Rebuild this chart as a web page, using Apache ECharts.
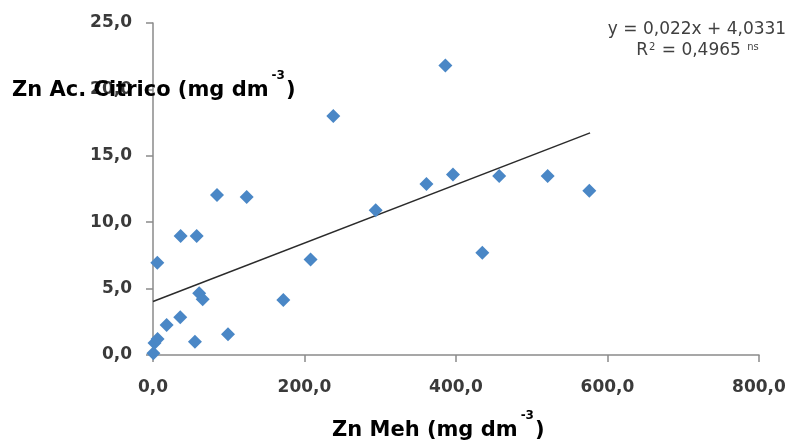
<!DOCTYPE html>
<html>
<head>
<meta charset="utf-8">
<script src="https://cdn.jsdelivr.net/npm/echarts@6/dist/echarts.min.js"></script>
<style>
html,body{margin:0;padding:0;background:#fff;}
#main{width:789px;height:441px;}
</style>
</head>
<body>
<div id="main"></div>
<script>
// Zn Meh (x) vs Zn Ac. Citrico (y)
var znMeh = [0.5, 2, 6, 18, 36, 5.7, 36.5, 57.7, 61, 65.6, 55.4, 99, 172, 208, 84.5, 123.7, 238, 294, 361, 396, 386, 457, 521, 576, 434.7];
var znCitrico = [0.13, 0.9, 1.2, 2.26, 2.84, 6.95, 8.96, 8.96, 4.65, 4.2, 1.0, 1.56, 4.14, 7.2, 12.05, 11.9, 18.0, 10.9, 12.88, 13.6, 21.8, 13.48, 13.48, 12.37, 7.7];
// trend line end points
var trendX = [0, 577];
var trendY = [4.03, 16.73];
var xTicks = [0, 200, 400, 600, 800];
var yTicks = [0, 5, 10, 15, 20, 25];
var equationLine1 = 'y = 0,022x + 4,0331';
var equationR2 = '0,4965';
var yTitleMain = 'Zn Ac. Citrico (mg dm';
var xTitleMain = 'Zn Meh (mg dm';
var titleSup = '-3';

var pts = znMeh.map(function (x, i) { return [x, znCitrico[i]]; });
var trend = trendX.map(function (x, i) { return [x, trendY[i]]; });
function fmt(v) { if (Math.abs(v) < 1e-9) v = 0; return Math.abs(v).toFixed(1).replace('.', ','); }

var TITLE_FONT = 'bold 21px "DejaVu Sans"';
var SUP_FONT = 'bold 12px "DejaVu Sans"';
var ctx = document.createElement('canvas').getContext('2d');
function textW(t, f) { ctx.font = f; return ctx.measureText(t).width; }

function titleParts(x0, yc, main) {
  var w = textW(main, TITLE_FONT);
  var sw = textW(titleSup, SUP_FONT);
  var base = {fill: '#000', fontFamily: 'DejaVu Sans', fontWeight: 'bold'};
  return [
    {type: 'text', z: 100, style: Object.assign({x: x0, y: yc, text: main, verticalAlign: 'middle', fontSize: 21}, base)},
    {type: 'text', z: 100, style: Object.assign({x: x0 + w + 3, y: yc - 15, text: titleSup, verticalAlign: 'middle', fontSize: 12}, base)},
    {type: 'text', z: 100, style: Object.assign({x: x0 + w + 3 + sw + 1, y: yc, text: ')', verticalAlign: 'middle', fontSize: 21}, base)}
  ];
}

var graphics = []
  .concat(titleParts(12, 91, yTitleMain))
  .concat(titleParts(332, 431, xTitleMain))
  .concat([
    {
      type: 'text', z: 100,
      style: {
        x: 697, y: 30,
        text: equationLine1,
        align: 'center', verticalAlign: 'middle',
        fill: '#404040', fontFamily: 'DejaVu Sans', fontSize: 17
      }
    },
    {
      type: 'text', z: 100,
      style: {
        x: 698, y: 51,
        text: 'R{sup|2} = ' + equationR2 + ' {sup|ns}',
        align: 'center', verticalAlign: 'middle',
        fill: '#404040', fontFamily: 'DejaVu Sans', fontSize: 17,
        rich: {sup: {fontSize: 10, fontFamily: 'DejaVu Sans', fill: '#404040', verticalAlign: 'top', padding: [0, 1, 8, 1]}}
      }
    }
  ]);

var chart = echarts.init(document.getElementById('main'), null, {renderer: 'canvas'});
chart.setOption({
  animation: false,
  backgroundColor: '#ffffff',
  grid: {left: 153, right: 30, top: 23, bottom: 86},
  xAxis: {
    type: 'value',
    min: xTicks[0], max: xTicks[xTicks.length - 1], interval: 200,
    splitLine: {show: false},
    axisLine: {show: true, onZero: false, lineStyle: {color: '#8a8a8a', width: 1.5}},
    axisTick: {show: true, length: 7, lineStyle: {color: '#8a8a8a', width: 1.5}},
    axisLabel: {margin: 24, formatter: fmt, color: '#3a3a3a', fontFamily: 'DejaVu Sans', fontWeight: 'bold', fontSize: 17}
  },
  yAxis: {
    type: 'value',
    min: yTicks[0], max: yTicks[yTicks.length - 1], interval: 5,
    splitLine: {show: false},
    axisLine: {show: true, onZero: false, lineStyle: {color: '#8a8a8a', width: 1.5}},
    axisTick: {show: true, length: 7, lineStyle: {color: '#8a8a8a', width: 1.5}},
    axisLabel: {margin: 21, formatter: fmt, color: '#3a3a3a', fontFamily: 'DejaVu Sans', fontWeight: 'bold', fontSize: 17}
  },
  series: [
    {
      type: 'line',
      data: trend,
      symbol: 'none',
      lineStyle: {color: '#2b2b2b', width: 1.5},
      z: 1
    },
    {
      type: 'scatter',
      data: pts,
      symbol: 'diamond',
      symbolSize: 14,
      itemStyle: {color: '#4a87c6', opacity: 1},
      z: 2
    }
  ],
  graphic: graphics
});
</script>
</body>
</html>
